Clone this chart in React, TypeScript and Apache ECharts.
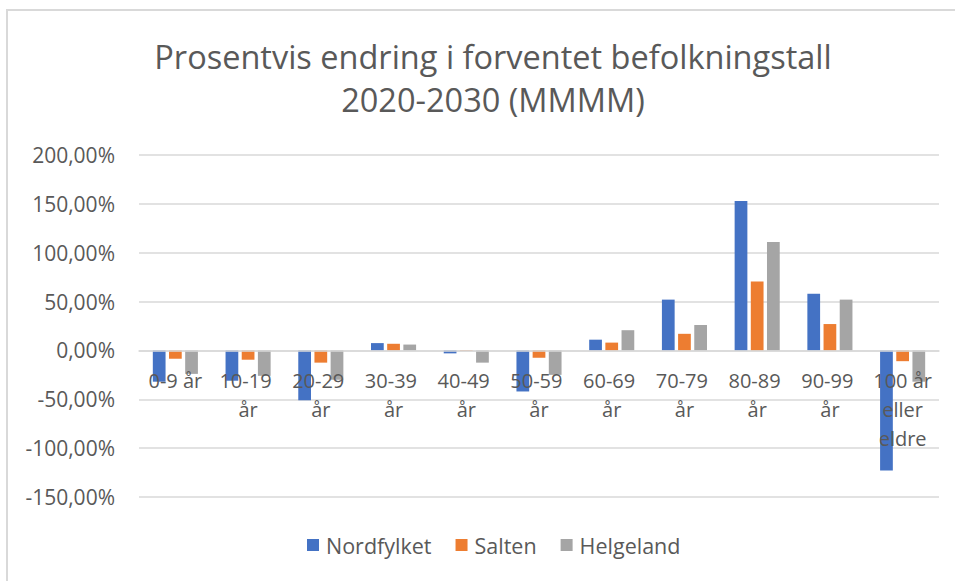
import React, { useEffect, useRef } from "react";
import * as echarts from "echarts";

const categories = [
  "0-9 år",
  "10-19 år",
  "20-29 år",
  "30-39 år",
  "40-49 år",
  "50-59 år",
  "60-69 år",
  "70-79 år",
  "80-89 år",
  "90-99 år",
  "100 år eller eldre",
];
const nordfylket = [-32, -31, -51, 7.5, -3, -42, 11, 52, 153, 58, -123];
const salten = [-8.5, -9.5, -12.5, 6.8, -0.5, -7.5, 8, 17, 70.5, 27, -11];
const helgeland = [-24, -26, -30, 6, -12.5, -25, 20.7, 26, 111, 52, -32];

const FONT = "Open Sans, sans-serif";
const TEXT = "#595959";

export default function App() {
  const ref = useRef<HTMLDivElement>(null);
  useEffect(() => {
    document.body.style.margin = "0";
    const chart = echarts.init(ref.current!, null, { renderer: "svg" });
    const mk = (name: string, data: number[], color: string) => ({
      name,
      type: "bar",
      data,
      itemStyle: { color },
      barGap: "27%",
      barCategoryGap: "38%",
    });
    chart.setOption({
      animation: false,
      backgroundColor: "#ffffff",
      textStyle: { fontFamily: FONT },
      title: {
        text: "Prosentvis endring i forventet befolkningstall\n2020-2030 (MMMM)",
        left: 488,
        top: 30,
        textAlign: "center",
        textStyle: {
          fontFamily: FONT,
          fontSize: 32.5,
          fontWeight: "normal",
          color: TEXT,
          lineHeight: 43,
        },
      },
      graphic: [
        {
          type: "rect",
          shape: { x: 7, y: 10, width: 1000, height: 700 },
          style: { fill: "none", stroke: "#D9D9D9", lineWidth: 2 },
          silent: true,
        },
      ],
      legend: {
        bottom: 20,
        left: 302,
        itemWidth: 12,
        itemHeight: 12,
        itemGap: 24,
        icon: "rect",
        textStyle: {
          fontFamily: FONT,
          fontSize: 21.5,
          color: TEXT,
          padding: [0, 0, 0, 2],
        },
        data: ["Nordfylket", "Salten", "Helgeland"],
      },
      grid: {
        left: 139,
        right: 16,
        top: 155,
        bottom: 84,
        containLabel: false,
        outerBoundsMode: "none",
      },
      xAxis: {
        type: "category",
        data: categories,
        z: 10,
        offset: -146.6,
        axisLine: { onZero: false, lineStyle: { color: "#D9D9D9", width: 1.5 } },
        axisTick: { show: false },
        axisLabel: {
          interval: 0,
          margin: 16,
          fontFamily: FONT,
          fontSize: 20,
          color: TEXT,
          lineHeight: 29,
          width: 72,
          overflow: "break",
        },
      },
      yAxis: {
        type: "value",
        min: -150,
        max: 200,
        interval: 50,
        axisLine: { show: false },
        axisTick: { show: false },
        splitLine: { lineStyle: { color: "#D9D9D9", width: 1.5 } },
        axisLabel: {
          margin: 24,
          fontFamily: FONT,
          fontSize: 21,
          color: TEXT,
          formatter: (v: number) => v.toFixed(2).replace(".", ",") + "%",
        },
      },
      series: [
        mk("Nordfylket", nordfylket, "#4472C4"),
        mk("Salten", salten, "#ED7D31"),
        mk("Helgeland", helgeland, "#A5A5A5"),
      ],
    });
    return () => chart.dispose();
  }, []);
  return (
    <div
      ref={ref}
      style={{ position: "fixed", left: 0, top: 0, width: 955, height: 581 }}
    />
  );
}
